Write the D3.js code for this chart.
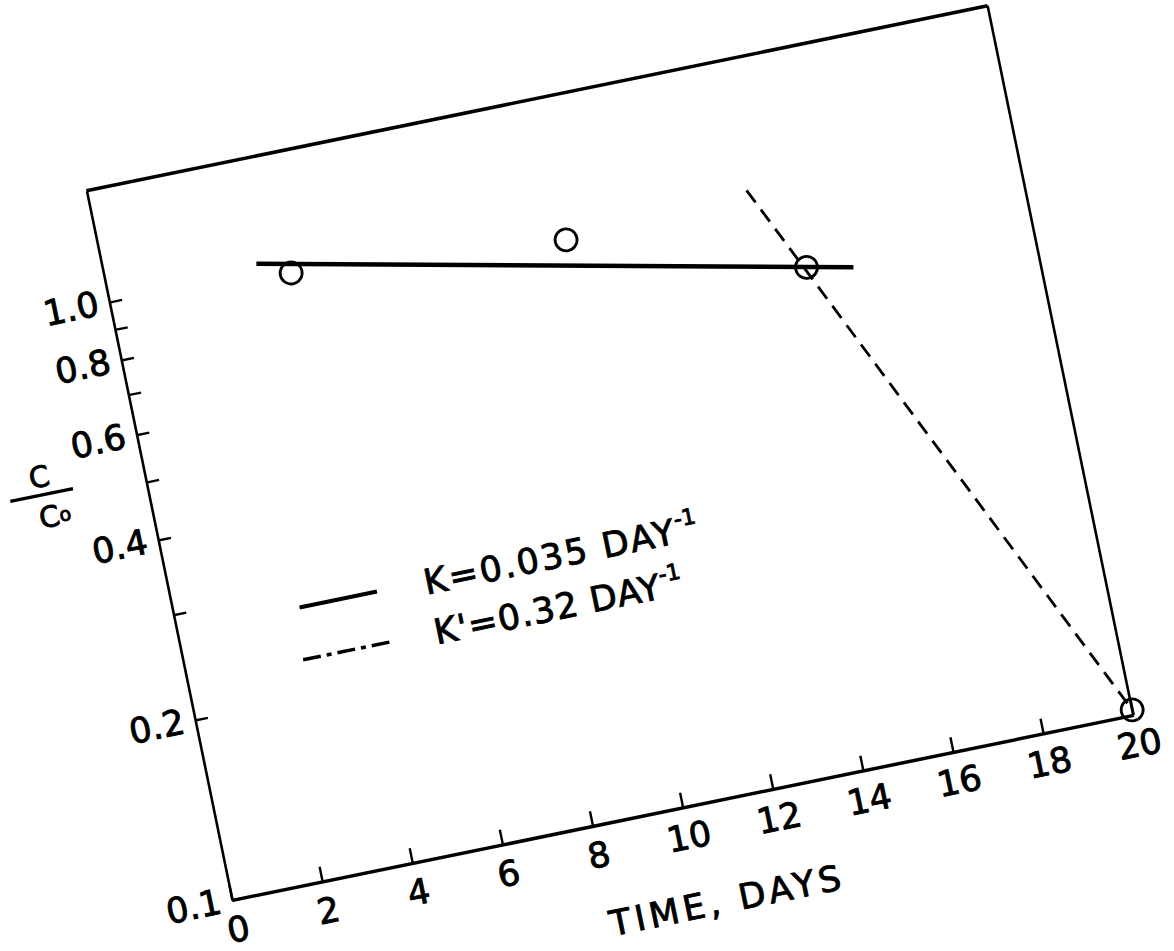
<!DOCTYPE html>
<html>
<head>
<meta charset="utf-8">
<script src="https://cdn.jsdelivr.net/npm/d3@7"></script>
<style>
  body { margin: 0; background: #fff; }
  svg { display: block; }
  text { stroke: #000; stroke-width: 0.9px; fill: #000; }
</style>
</head>
<body>
<script>
// measured points, C/Co against time
const days = [4, 10, 15, 20];
const ratio = [0.97, 0.89, 0.67, 0.102];

// fitted lines (first order decay)
const kDays = [3.3, 16];
const kRatio = [1.03, 0.647];
const kpDays = [14.06, 20];
const kpRatio = [0.932, 0.102];

const xTicks = [0, 2, 4, 6, 8, 10, 12, 14, 16, 18, 20];
const yTicks = [0.1, 0.2, 0.3, 0.4, 0.5, 0.6, 0.7, 0.8, 0.9, 1.0];
const yLabels = [0.1, 0.2, 0.4, 0.6, 0.8, 1.0];

const width = 1174, height = 951;
const W = 920, H = 724;        // plot box, before the tilt
const font = "DejaVu Sans";

const x = d3.scaleLinear().domain([0, 20]).range([0, W]);
const y = d3.scaleLog().domain([0.1, 1.535]).range([H, 0]);

const svg = d3.select("body").append("svg")
  .attr("width", width)
  .attr("height", height);

svg.append("rect").attr("width", width).attr("height", height).attr("fill", "#fff");

// the whole sheet is tilted like the scan
const plot = svg.append("g")
  .attr("transform", `translate(232,900) rotate(-11.6) translate(0,${-H})`);

// frame: top and right edges
plot.append("line")
  .attr("x1", x(0)).attr("x2", x(20)).attr("y1", 0).attr("y2", 0)
  .attr("stroke", "#000").attr("stroke-width", 3.5);
plot.append("line")
  .attr("x1", x(20)).attr("x2", x(20)).attr("y1", 0).attr("y2", H)
  .attr("stroke", "#000").attr("stroke-width", 2.6);

// x axis, ticks inward
const gx = plot.append("g")
  .attr("transform", `translate(0,${H})`)
  .call(d3.axisBottom(x).tickValues(xTicks).tickFormat(d3.format("d"))
    .tickSizeInner(-15).tickSizeOuter(0).tickPadding(17));
gx.select(".domain").attr("stroke-width", 3.5);
gx.selectAll(".tick line").attr("stroke-width", 2.4);
gx.selectAll(".tick text").attr("font-family", font).attr("font-size", 35);

// y axis (log), ticks inward
const gy = plot.append("g")
  .call(d3.axisLeft(y).tickValues(yTicks)
    .tickFormat(d => yLabels.includes(d) ? d.toFixed(1) : "")
    .tickSizeInner(-13).tickSizeOuter(0).tickPadding(11));
gy.select(".domain").attr("stroke-width", 2.6);
gy.selectAll(".tick line").attr("stroke-width", 2.4);
gy.selectAll(".tick text").attr("font-family", font).attr("font-size", 35).attr("dy", "0.3em");

// axis titles
plot.append("text")
  .attr("x", x(10.5)).attr("y", H + 112)
  .attr("text-anchor", "middle")
  .attr("font-family", font).attr("font-size", 35)
  .attr("textLength", 235).attr("lengthAdjust", "spacing")
  .text("TIME, DAYS");

const yt = plot.append("g").attr("transform", "translate(-104,289)");
yt.append("text").attr("x", 0).attr("y", -8)
  .attr("text-anchor", "middle")
  .attr("font-family", font).attr("font-size", 29)
  .text("C");
yt.append("line").attr("x1", -33).attr("x2", 31).attr("y1", 0).attr("y2", 0)
  .attr("stroke", "#000").attr("stroke-width", 3.2);
const co = yt.append("text").attr("x", 8).attr("y", 33)
  .attr("text-anchor", "middle")
  .attr("font-family", font).attr("font-size", 29);
co.append("tspan").text("C");
co.append("tspan").attr("font-size", 19).attr("dy", -3).text("o");

// fitted lines
const line = d3.line().x(d => x(d[0])).y(d => y(d[1]));

plot.append("path")
  .attr("d", line(d3.zip(kDays, kRatio)))
  .attr("fill", "none").attr("stroke", "#000").attr("stroke-width", 4.5);

plot.append("path")
  .attr("d", line(d3.zip(kpDays, kpRatio)))
  .attr("fill", "none").attr("stroke", "#000").attr("stroke-width", 2.8)
  .attr("stroke-dasharray", "15,9");

// data points
plot.append("g")
  .selectAll("circle")
  .data(d3.zip(days, ratio))
  .join("circle")
  .attr("cx", d => x(d[0]))
  .attr("cy", d => y(d[1]))
  .attr("r", 11)
  .attr("fill", "none")
  .attr("stroke", "#000")
  .attr("stroke-width", 2.8);

// legend
const legend = plot.append("g").attr("font-family", font).attr("font-size", 35);

legend.append("line").attr("x1", 125).attr("x2", 204).attr("y1", 451).attr("y2", 451)
  .attr("stroke", "#000").attr("stroke-width", 4);
legend.append("line").attr("x1", 118).attr("x2", 207).attr("y1", 503).attr("y2", 503)
  .attr("stroke", "#000").attr("stroke-width", 3.5).attr("stroke-dasharray", "18,6,5,6");

const t1 = legend.append("text").attr("x", 252).attr("y", 464);
t1.append("tspan").attr("textLength", 255).attr("lengthAdjust", "spacing").text("K=0.035 DAY");
t1.append("tspan").attr("font-size", 22).attr("dy", -16).text("-1");

const t2 = legend.append("text").attr("x", 252).attr("y", 515);
t2.append("tspan").attr("textLength", 230).attr("lengthAdjust", "spacing").text("K'=0.32 DAY");
t2.append("tspan").attr("font-size", 22).attr("dy", -16).text("-1");
</script>
</body>
</html>
